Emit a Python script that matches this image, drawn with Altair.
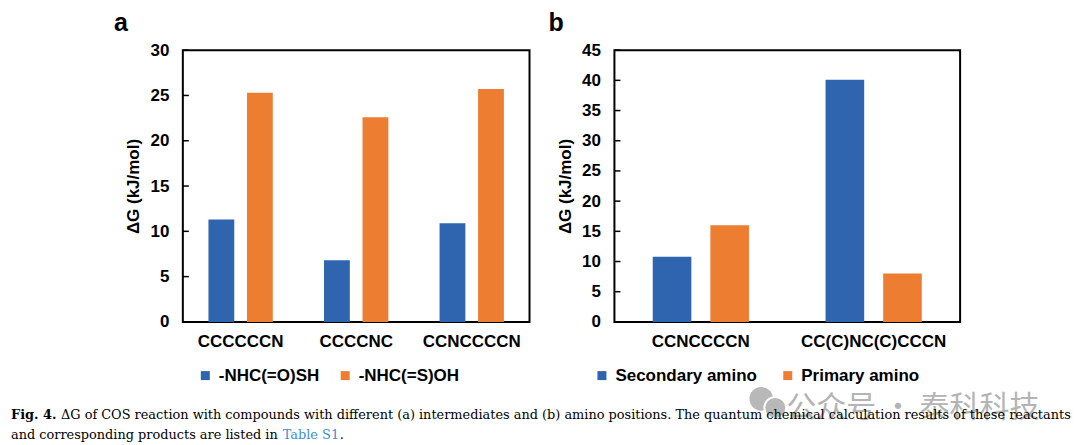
import altair as alt
import pandas as pd

# ---------------- data ----------------
cats_a = ["CCCCCCN", "CCCCNC", "CCNCCCCN"]
series_a = ["-NHC(=O)SH", "-NHC(=S)OH"]
vals_a_1 = [11.3, 6.8, 10.9]
vals_a_2 = [25.3, 22.6, 25.7]

cats_b = ["CCNCCCCN", "CC(C)NC(C)CCCN"]
series_b = ["Secondary amino", "Primary amino"]
vals_b_1 = [10.8, 40.1]
vals_b_2 = [16.0, 8.0]

ticks_a = [0, 5, 10, 15, 20, 25, 30]
ticks_b = [0, 5, 10, 15, 20, 25, 30, 35, 40, 45]

y_title = "ΔG (kJ/mol)"
caption_bold = ["Fig. 4."]
caption_1 = ["ΔG of COS reaction with compounds with different (a) intermediates and (b) amino positions. The quantum chemical calculation results of these reactants"]
caption_2 = ["and corresponding products are listed in"]
caption_link = ["Table S1"]
caption_end = ["."]
watermark = ["公众号 · 泰科科技"]
icon_size = [560, 480]

BLUE = "#2F64AE"
ORANGE = "#ED7D31"
FONT = "Liberation Sans"
P_IN, P_OUT = 0.33, 0.665


def panel(cats, series, v1, v2, tickvals, letter, letter_dx, leg_x, leg_pad, width):
    # one band slot per bar, with an empty slot between compound groups
    slot_domain = []
    for i, c in enumerate(cats):
        if i > 0:
            slot_domain.append("gap%d" % i)
        slot_domain += [c + "|0", c + "|1"]
    df = pd.DataFrame({
        "slot": [c + "|0" for c in cats] + [c + "|1" for c in cats],
        "series": [series[0]] * len(cats) + [series[1]] * len(cats),
        "value": v1 + v2,
    })
    tdf = pd.DataFrame({"value": tickvals})
    ymax = tickvals[-1]
    step = width / (len(slot_domain) - P_IN + 2 * P_OUT)
    yaxis = alt.Axis(values=tickvals, title=y_title, ticks=False, domain=False,
                     grid=False, labelFontSize=17, labelFontWeight="bold",
                     labelPadding=14, labelColor="black", labelFont=FONT,
                     titleFontSize=17, titleFontWeight="bold", titleFont=FONT,
                     titleColor="black", titlePadding=7)
    yscale = alt.Scale(domain=[0, ymax], nice=False)
    bars = alt.Chart(df).mark_bar().encode(
        x=alt.X("slot:N",
                scale=alt.Scale(domain=slot_domain, paddingInner=P_IN, paddingOuter=P_OUT),
                axis=alt.Axis(title=None, labelAngle=0, ticks=False, domain=False,
                              labelExpr="indexof(datum.label, '|0') > 0 ? replace(datum.label, '|0', '') : ''",
                              labelOffset=step / 2, labelOverlap=False,
                              labelFontSize=17, labelFontWeight="bold", labelPadding=12,
                              labelColor="black", labelFont=FONT)),
        y=alt.Y("value:Q", scale=yscale, axis=yaxis),
        color=alt.Color("series:N", sort=series,
                        scale=alt.Scale(domain=series, range=[BLUE, ORANGE]),
                        legend=alt.Legend(title=None, orient="none", legendX=leg_x, legendY=317,
                                          direction="horizontal", symbolType="square",
                                          symbolSize=81, symbolStrokeWidth=0,
                                          labelFontSize=17, labelFontWeight="bold",
                                          labelFont=FONT, labelColor="black",
                                          columnPadding=leg_pad, labelOffset=5)),
    )
    tk = alt.Chart(tdf).mark_rule(color="black", strokeWidth=1.5).encode(
        y=alt.Y("value:Q", scale=yscale, axis=yaxis), x=alt.value(0), x2=alt.value(6))
    return alt.layer(bars, tk).properties(
        width=width, height=272,
        title=alt.TitleParams(text=letter, anchor="start", frame="bounds", dx=letter_dx,
                              fontSize=25, fontWeight="bold", font=FONT, color="black", offset=5),
        view=alt.ViewBackground(stroke="black", strokeWidth=2),
    )


pa = panel(cats_a, series_a, vals_a_1, vals_a_2, ticks_a, "a", -11, 14, 17, 347)
pb = panel(cats_b, series_b, vals_b_1, vals_b_2, ticks_b, "b", -8, -21, 22, 346)

spacer = alt.Chart(pd.DataFrame({"v": [0]})).mark_point(opacity=0).encode(
    x=alt.value(0), y=alt.value(0)
).properties(width=85, height=10, view=alt.ViewBackground(stroke="transparent"))

top = alt.hconcat(spacer, pa, pb, spacing=17).resolve_scale(color="independent")


def txt(values, x, y, baseline="alphabetic", **kw):
    return alt.Chart(pd.DataFrame({"t": values})).mark_text(
        align="left", baseline=baseline, **kw
    ).encode(text="t:N", x=alt.value(x), y=alt.value(y))


def dot(size, x, y, **kw):
    return alt.Chart(pd.DataFrame({"s": [size]})).mark_circle(opacity=1, **kw).encode(
        size=alt.Size("s:Q", scale=None, legend=None), x=alt.value(x), y=alt.value(y))


SERIF = "DejaVu Serif"
FS = 12.9
cap = alt.layer(
    dot(icon_size[0], 751, 6, color="#b8b8b8"),
    dot(icon_size[1], 765, 15, color="#b8b8b8", stroke="white", strokeWidth=2),
    txt(watermark, 776, 15, baseline="middle", font="Noto Sans CJK SC", fontSize=30,
        color="#a8a8a8", opacity=0.85),
    txt(caption_bold, 0, 26, font=SERIF, fontSize=FS, fontWeight="bold", color="black"),
    txt(caption_1, 50, 26, font=SERIF, fontSize=FS, color="black"),
    txt(caption_2, 0, 46, font=SERIF, fontSize=FS, color="black"),
    txt(caption_link, 272, 46, font=SERIF, fontSize=FS, color="#3E8FCB"),
    txt(caption_end, 329, 46, font=SERIF, fontSize=FS, color="black"),
).properties(width=1055, height=50, view=alt.ViewBackground(stroke="transparent"))

chart = alt.vconcat(top, cap, spacing=2).properties(
    padding={"left": 0, "top": 2, "right": 0, "bottom": 0}
).configure_view(strokeWidth=0)

chart.save("out.html", embed_options={"renderer": "svg", "actions": False})
